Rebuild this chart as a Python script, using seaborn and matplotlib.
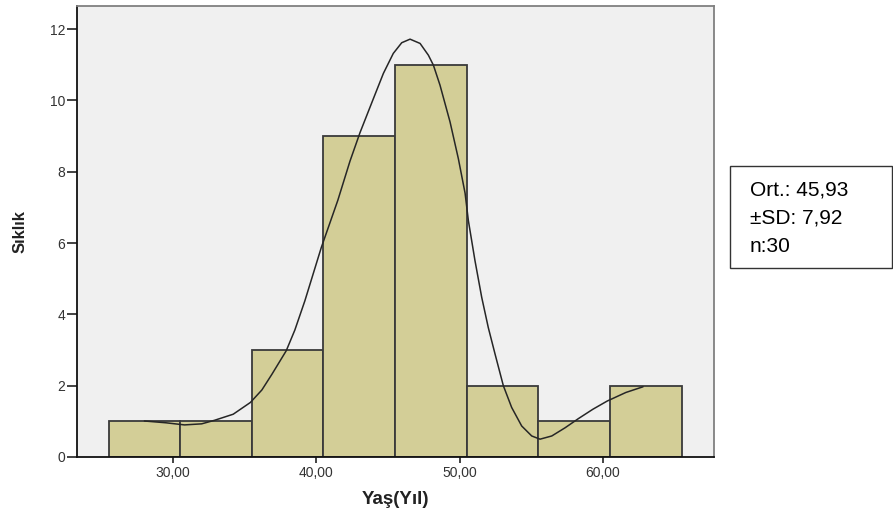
import matplotlib
matplotlib.use('Agg')
import matplotlib.pyplot as plt
import seaborn as sns
from matplotlib.patches import Rectangle

# ---- data ----
bin_edges = [25.5, 30.5, 35.5, 40.5, 45.5, 50.5, 55.5, 60.5, 65.5]
bin_mids = [28, 33, 38, 43, 48, 53, 58, 63]
counts = [1, 1, 3, 9, 11, 2, 1, 2]

curve_x = [28.0, 29.5, 30.8, 32.0, 32.9, 34.2, 35.4, 36.2, 36.9, 37.9, 38.5,
           39.2, 40.35, 41.5, 42.35, 43.05, 43.98, 44.68, 45.37, 45.96, 46.54,
           47.24, 47.82, 48.17, 48.63, 49.33, 49.91, 50.38, 50.61, 51.07, 51.54,
           52.0, 52.47, 53.05, 53.63, 54.33, 55.03, 55.61, 56.43, 57.36, 58.3,
           59.3, 60.3, 61.6, 62.8]
curve_y = [1.01, 0.96, 0.90, 0.93, 1.03, 1.20, 1.53, 1.88, 2.32, 2.98, 3.56,
           4.38, 5.88, 7.20, 8.30, 9.10, 10.05, 10.76, 11.32, 11.62, 11.72,
           11.60, 11.27, 10.99, 10.43, 9.40, 8.37, 7.40, 6.63, 5.51, 4.48,
           3.63, 2.89, 2.00, 1.39, 0.87, 0.59, 0.50, 0.59, 0.82, 1.08,
           1.34, 1.57, 1.81, 1.97]

x_ticks = [30, 40, 50, 60]
x_tick_labels = ['30,00', '40,00', '50,00', '60,00']
y_ticks = [0, 2, 4, 6, 8, 10, 12]
y_tick_labels = ['0', '2', '4', '6', '8', '10', '12']
x_label = 'Yaş(Yıl)'
y_label = 'Sıklık'
stats_lines = ['Ort.: 45,93', '±SD: 7,92', 'n:30']

# ---- style ----
sns.set_theme(style='white')
plt.rcParams['font.family'] = ['Liberation Sans', 'DejaVu Sans']

fig = plt.figure(figsize=(8.93, 5.14), dpi=100)
fig.patch.set_facecolor('white')
W, H = 893, 514
ax = fig.add_axes([77 / W, 1 - 457 / H, (714 - 77) / W, (457 - 6) / H])

sns.histplot(x=bin_mids, weights=counts, bins=bin_edges, color='#D3CE97',
             edgecolor='#3a3a3a', linewidth=1.3, alpha=1, ax=ax, zorder=2)
sns.lineplot(x=curve_x, y=curve_y, sort=False, estimator=None, color='#262626',
             linewidth=1.1, ax=ax, zorder=3)

ax.set_facecolor('#F0F0F0')
ax.set_xlim(23.3, 67.75)
ax.set_ylim(0, 12.65)
ax.set_xticks(x_ticks)
ax.set_xticklabels(x_tick_labels, fontsize=10, color='#333333')
ax.set_yticks(y_ticks)
ax.set_yticklabels(y_tick_labels, fontsize=10, color='#333333')
ax.tick_params(axis='y', which='both', left=True, length=7, width=1.2,
               color='#222222', pad=1.5, direction='out')
ax.tick_params(axis='x', which='both', bottom=True, length=4.5, width=1.2,
               color='#222222', pad=2, direction='out')
ax.set_xlabel(x_label, fontsize=13.5, fontweight='bold', color='#222222', labelpad=8)
ax.set_ylabel(y_label, fontsize=12, fontweight='bold', color='#222222', labelpad=16)

for side in ['left', 'bottom']:
    ax.spines[side].set_color('#111111')
    ax.spines[side].set_linewidth(1.3)
for side in ['top', 'right']:
    ax.spines[side].set_visible(True)
    ax.spines[side].set_color('#808080')
    ax.spines[side].set_linewidth(1.3)
ax.grid(False)

# ---- stats box ----
box = Rectangle((730 / W, 1 - 268 / H), (892 - 730) / W, (268 - 166) / H,
                transform=fig.transFigure, facecolor='white', edgecolor='#333333',
                linewidth=1.0, zorder=5)
fig.add_artist(box)
for i, line in enumerate(stats_lines):
    fig.text(750 / W, 1 - (190 + i * 28) / H, line, fontsize=15, color='black',
             va='center', ha='left', zorder=6)

fig.savefig('out.png', dpi=100)
